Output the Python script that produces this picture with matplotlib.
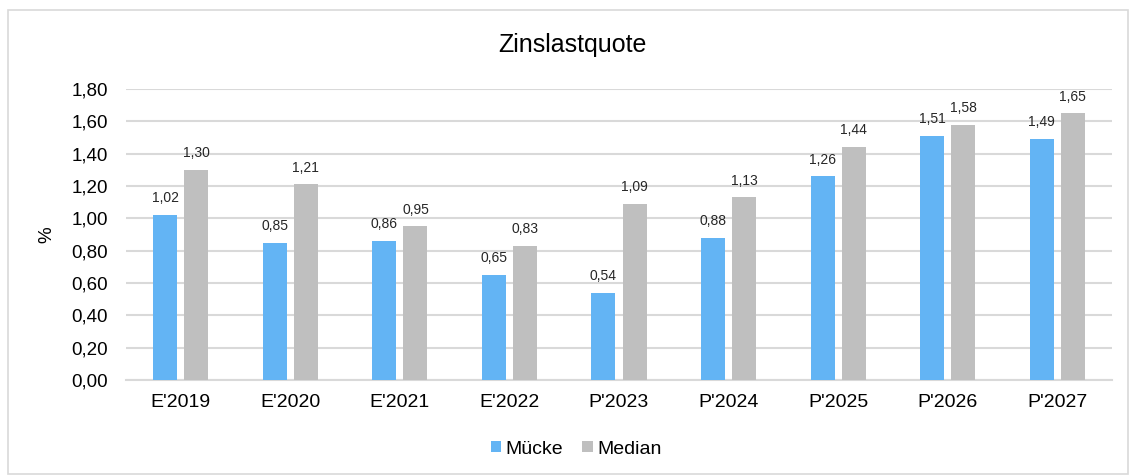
import numpy as np
import matplotlib.pyplot as plt
from matplotlib.patches import Rectangle

plt.rcParams['font.family'] = ['Liberation Sans', 'DejaVu Sans']

categories = ["E'2019", "E'2020", "E'2021", "E'2022", "P'2023", "P'2024", "P'2025", "P'2026", "P'2027"]
muecke = [1.02, 0.85, 0.86, 0.65, 0.54, 0.88, 1.26, 1.51, 1.49]
median = [1.30, 1.21, 0.95, 0.83, 1.09, 1.13, 1.44, 1.58, 1.65]

fig = plt.figure(figsize=(11.32, 4.76), dpi=100)
fig.patches.append(Rectangle((8 / 1132, 2 / 476), 1120 / 1132, 464 / 476,
                             transform=fig.transFigure, fill=False,
                             edgecolor='#d9d9d9', linewidth=1.2))
ax = fig.add_axes([126 / 1132, 1 - 380 / 476, 986 / 1132, 291 / 476])

x = np.arange(len(categories))
w = 0.22
gap = 0.064
b1 = ax.bar(x - (w + gap) / 2, muecke, w, color='#63b4f4', label='Mücke', zorder=3)
b2 = ax.bar(x + (w + gap) / 2, median, w, color='#bfbfbf', label='Median', zorder=3)

for bars, vals in ((b1, muecke), (b2, median)):
    for b, v in zip(bars, vals):
        ax.annotate(f"{v:.2f}".replace('.', ','), (b.get_x() + b.get_width() / 2, v),
                    xytext=(0, 7), textcoords='offset points',
                    ha='center', va='bottom', fontsize=10, color='#262626')

ax.set_xlim(-0.5, len(categories) - 0.5)
ax.set_ylim(0, 1.8)
ticks = np.arange(0, 1.81, 0.2)
ax.set_yticks(ticks)
ax.set_yticklabels([f"{t:.2f}".replace('.', ',') for t in ticks], fontsize=13.5)
ax.set_xticks(x)
ax.set_xticklabels(categories, fontsize=14)
ax.tick_params(axis='y', length=0, pad=13, colors='#000000')
ax.tick_params(axis='x', length=0, pad=10, colors='#000000')
ax.grid(axis='y', color='#d9d9d9', linewidth=1.5, zorder=0)
for s in ('top', 'right', 'left'):
    ax.spines[s].set_visible(False)
ax.spines['bottom'].set_color('#d9d9d9')
ax.spines['bottom'].set_linewidth(1.5)

fig.text(47 / 1132, 1 - 235 / 476, '%', rotation=90, ha='center', va='center', fontsize=13.5)
fig.text(572 / 1132, 1 - 45 / 476, 'Zinslastquote', ha='center', va='center', fontsize=18)
fig.legend(loc='center', bbox_to_anchor=(576 / 1132, 1 - 449 / 476), ncol=2,
           frameon=False, fontsize=14, handlelength=0.55, handleheight=0.55,
           handletextpad=0.2, columnspacing=1.0)

plt.savefig('out.png', dpi=100)
